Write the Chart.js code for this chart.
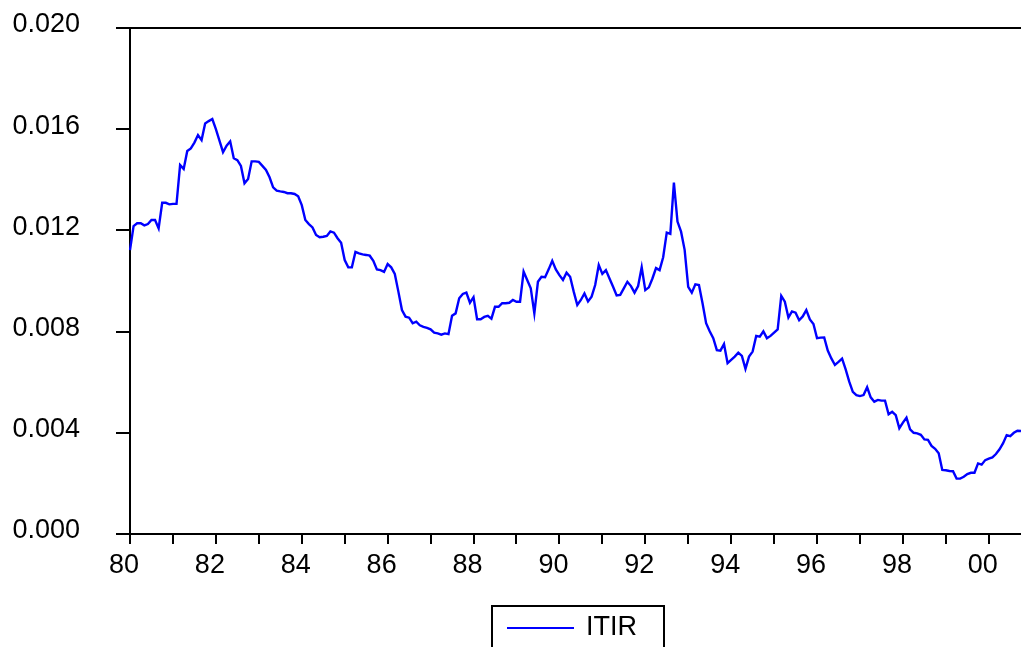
<!DOCTYPE html>
<html>
<head>
<meta charset="utf-8">
<script src="https://cdn.jsdelivr.net/npm/chart.js@4.4.1/dist/chart.umd.min.js"></script>
<style>
  html, body { margin: 0; padding: 0; background: #fff; overflow: hidden; }
  #wrap { width: 1021px; height: 647px; position: relative; }
</style>
</head>
<body>
<div id="wrap"><canvas id="c" width="1021" height="647"></canvas></div>
<script>
// Monthly ITIR series, 1980M01 .. 2000M10
const seriesName = 'ITIR';
const startYear = 1980;

const itir = [
  // 1980
  0.01122, 0.01217, 0.01228, 0.01228, 0.01220, 0.01225, 0.01241, 0.01241, 0.01208, 0.01309, 0.01309, 0.01303,
  // 1981
  0.01305, 0.01305, 0.01458, 0.01443, 0.01514, 0.01524, 0.01547, 0.01577, 0.01557, 0.01623, 0.01632, 0.01640,
  // 1982
  0.01600, 0.01555, 0.01509, 0.01535, 0.01552, 0.01485, 0.01478, 0.01455, 0.01386, 0.01403, 0.01473, 0.01473,
  // 1983
  0.01471, 0.01455, 0.01439, 0.01410, 0.01370, 0.01357, 0.01354, 0.01352, 0.01347, 0.01347, 0.01344, 0.01335,
  // 1984
  0.01300, 0.01241, 0.01225, 0.01212, 0.01182, 0.01173, 0.01175, 0.01178, 0.01196, 0.01191, 0.01169, 0.01151,
  // 1985
  0.01083, 0.01054, 0.01054, 0.01115, 0.01109, 0.01105, 0.01103, 0.01100, 0.01080, 0.01046, 0.01043, 0.01036,
  // 1986
  0.01067, 0.01054, 0.01028, 0.00958, 0.00885, 0.00859, 0.00855, 0.00833, 0.00839, 0.00825, 0.00819, 0.00815,
  // 1987
  0.00809, 0.00796, 0.00793, 0.00788, 0.00793, 0.00790, 0.00863, 0.00872, 0.00932, 0.00949, 0.00954, 0.00914,
  // 1988
  0.00936, 0.00849, 0.00849, 0.00858, 0.00862, 0.00851, 0.00898, 0.00898, 0.00912, 0.00912, 0.00914, 0.00925,
  // 1989
  0.00918, 0.00918, 0.01037, 0.01004, 0.00971, 0.00872, 0.00997, 0.01017, 0.01015, 0.01046, 0.01080, 0.01046,
  // 1990
  0.01023, 0.01004, 0.01033, 0.01017, 0.00958, 0.00905, 0.00925, 0.00951, 0.00919, 0.00938, 0.00984, 0.01063,
  // 1991
  0.01028, 0.01043, 0.01010, 0.00977, 0.00943, 0.00945, 0.00971, 0.00997, 0.00980, 0.00954, 0.00980, 0.01054,
  // 1992
  0.00964, 0.00975, 0.01010, 0.01051, 0.01043, 0.01094, 0.01191, 0.01186, 0.01389, 0.01235, 0.01195, 0.01123,
  // 1993
  0.00977, 0.00954, 0.00987, 0.00984, 0.00912, 0.00833, 0.00801, 0.00774, 0.00727, 0.00725, 0.00751, 0.00675,
  // 1994
  0.00688, 0.00701, 0.00717, 0.00704, 0.00653, 0.00701, 0.00721, 0.00783, 0.00780, 0.00801, 0.00774, 0.00783,
  // 1995
  0.00796, 0.00809, 0.00941, 0.00918, 0.00856, 0.00880, 0.00875, 0.00845, 0.00860, 0.00885, 0.00848, 0.00830,
  // 1996
  0.00774, 0.00776, 0.00777, 0.00725, 0.00694, 0.00668, 0.00680, 0.00693, 0.00651, 0.00602, 0.00562, 0.00549,
  // 1997
  0.00545, 0.00549, 0.00580, 0.00540, 0.00523, 0.00530, 0.00527, 0.00527, 0.00473, 0.00483, 0.00470, 0.00418,
  // 1998
  0.00440, 0.00460, 0.00414, 0.00400, 0.00398, 0.00392, 0.00374, 0.00372, 0.00348, 0.00337, 0.00319, 0.00253,
  // 1999
  0.00252, 0.00249, 0.00248, 0.00219, 0.00219, 0.00226, 0.00237, 0.00242, 0.00242, 0.00279, 0.00274, 0.00292,
  // 2000
  0.00298, 0.00303, 0.00316, 0.00335, 0.00359, 0.00391, 0.00387, 0.00400, 0.00408, 0.00407
];

// Month labels for the category axis
const months = itir.map((_, i) =>
  (startYear + Math.floor(i / 12)) + 'M' + String(i % 12 + 1).padStart(2, '0'));

// One tick per January; only even years carry a label
const xTickLabels = ['80', '', '82', '', '84', '', '86', '', '88', '', '90', '', '92', '', '94', '', '96', '', '98', '', '00'];
const yTickValues = [0.000, 0.004, 0.008, 0.012, 0.016, 0.020];

const FONT = { family: '"Liberation Sans", Arial, Helvetica, sans-serif', size: 27 };
const LINE_BLUE = '#0000ff';

// Top frame line and boxed legend below the axis
const framePlugin = {
  id: 'frame',
  afterDraw(chart) {
    const { ctx, chartArea } = chart;
    ctx.save();
    ctx.strokeStyle = '#000';
    ctx.lineWidth = 2;
    ctx.beginPath();
    ctx.moveTo(chartArea.left - 1, chartArea.top);
    ctx.lineTo(chart.width, chartArea.top);
    ctx.stroke();

    // legend
    const ds = chart.data.datasets[0];
    const boxL = 492, boxT = chartArea.bottom + 72, boxW = 172, boxH = 60;
    ctx.lineWidth = 2;
    ctx.strokeStyle = '#000';
    ctx.strokeRect(boxL, boxT, boxW, boxH);
    ctx.strokeStyle = ds.borderColor;
    ctx.lineWidth = 2;
    ctx.beginPath();
    ctx.moveTo(boxL + 15, boxT + 22);
    ctx.lineTo(boxL + 82, boxT + 22);
    ctx.stroke();
    ctx.fillStyle = '#000';
    ctx.font = FONT.size + 'px ' + FONT.family;
    ctx.textBaseline = 'middle';
    ctx.textAlign = 'left';
    ctx.fillText(ds.label, boxL + 94, boxT + 22);
    ctx.restore();
  }
};

new Chart(document.getElementById('c'), {
  type: 'line',
  data: {
    labels: months,
    datasets: [{
      label: seriesName,
      data: itir,
      borderColor: LINE_BLUE,
      borderWidth: 2.4,
      pointRadius: 0,
      tension: 0,
      fill: false
    }]
  },
  options: {
    responsive: false,
    animation: false,
    layout: { padding: { top: 28, right: 0, bottom: 0, left: 0 } },
    plugins: { legend: { display: false }, tooltip: { enabled: false } },
    scales: {
      x: {
        type: 'category',
        offset: false,
        grid: { drawOnChartArea: false, drawTicks: true, tickLength: 10, color: '#000', lineWidth: 2, offset: false },
        border: { display: true, color: '#000', width: 2 },
        ticks: {
          autoSkip: false, maxRotation: 0, minRotation: 0, padding: 5, labelOffset: -6,
          color: '#000', font: FONT,
          callback: (v, i) => xTickLabels[i]
        },
        afterBuildTicks: s => { s.ticks = s.ticks.filter(t => t.value % 12 === 0); },
        afterFit: s => { s.height = 113; s.paddingLeft = 0; s.paddingRight = 0; }
      },
      y: {
        min: 0, max: 0.02,
        grid: { drawOnChartArea: false, drawTicks: true, tickLength: 14, color: '#000', lineWidth: 2 },
        border: { display: true, color: '#000', width: 2 },
        ticks: {
          padding: 36, labelOffset: -3, color: '#000', font: FONT,
          callback: v => Number(v).toFixed(3)
        },
        afterBuildTicks: s => { s.ticks = yTickValues.map(v => ({ value: v })); },
        afterFit: s => { s.width = 130; s.paddingTop = 0; s.paddingBottom = 0; }
      }
    }
  },
  plugins: [framePlugin]
});
</script>
</body>
</html>
